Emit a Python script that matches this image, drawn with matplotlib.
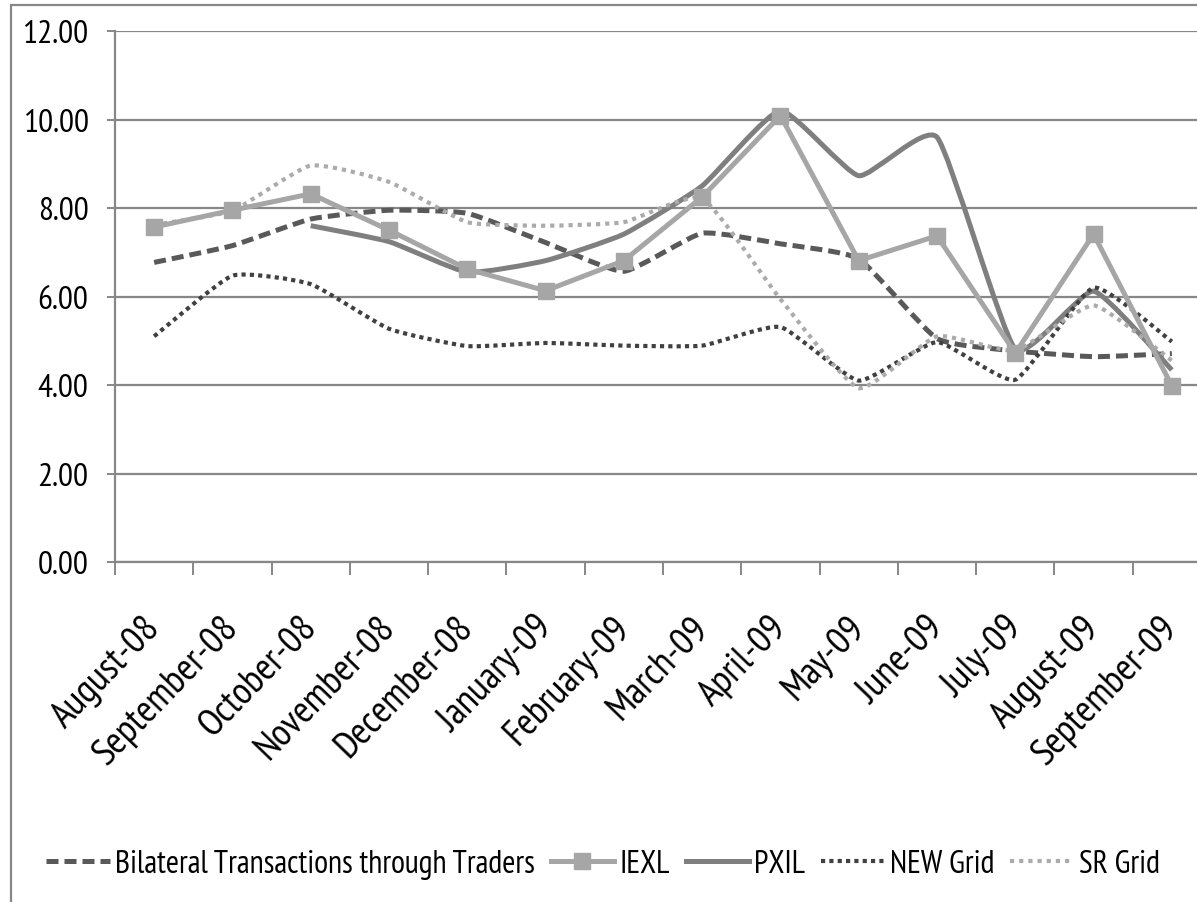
import matplotlib
matplotlib.use("Agg")
import matplotlib.pyplot as plt
import matplotlib.transforms as mtransforms
from matplotlib.path import Path
from matplotlib.patches import PathPatch, Rectangle
from matplotlib.lines import Line2D
import numpy as np

plt.rcParams["font.family"] = ["PT Sans Narrow", "DejaVu Sans"]

months = [
    "August-08", "September-08", "October-08", "November-08", "December-08",
    "January-09", "February-09", "March-09", "April-09", "May-09",
    "June-09", "July-09", "August-09", "September-09",
]
bilateral = [6.77, 7.15, 7.75, 7.95, 7.88, 7.22, 6.57, 7.43, 7.19, 6.85, 5.05, 4.77, 4.64, 4.71]
iexl = [7.57, 7.95, 8.32, 7.50, 6.62, 6.13, 6.81, 8.25, 10.09, 6.81, 7.37, 4.72, 7.41, 3.98]
pxil = [np.nan, np.nan, 7.60, 7.24, 6.55, 6.81, 7.41, 8.50, 10.20, 8.73, 9.60, 4.81, 6.12, 4.34]
new_grid = [5.10, 6.47, 6.28, 5.27, 4.88, 4.95, 4.89, 4.89, 5.31, 4.10, 4.97, 4.12, 6.20, 4.98]
sr_grid = [7.62, 7.94, 8.96, 8.59, 7.68, 7.60, 7.68, 8.22, 5.94, 3.93, 5.10, 4.78, 5.80, 4.55]

y_ticks = [0, 2, 4, 6, 8, 10, 12]

GRID = "#878787"
TENSION = 0.08


def smoothed_path(xs, ys):
    # Bezier curve through the points, like a spreadsheet "smoothed line"
    pts = np.array([(x, y) for x, y in zip(xs, ys) if not np.isnan(y)], dtype=float)
    n = len(pts)
    verts = [pts[0]]
    codes = [Path.MOVETO]
    for i in range(n - 1):
        p0 = pts[i - 1] if i > 0 else pts[i]
        p1 = pts[i]
        p2 = pts[i + 1]
        p3 = pts[i + 2] if i + 2 < n else pts[i + 1]
        verts += [p1 + (p2 - p0) * TENSION, p2 - (p3 - p1) * TENSION, p2]
        codes += [Path.CURVE4] * 3
    return Path(verts, codes)


W, H = 1197, 903
fig = plt.figure(figsize=(W / 100, H / 100), dpi=100)
ax = fig.add_axes([115 / W, 1 - 563 / H, 1096 / W, 531 / H])

x = np.arange(len(months))

series = [
    ("Bilateral Transactions through Traders", bilateral, dict(color="#595959", lw=3.6, ls=(0, (2.4, 1.2))), True),
    ("IEXL", iexl, dict(color="#a6a6a6", lw=3.6, ls="-"), False),
    ("PXIL", pxil, dict(color="#7f7f7f", lw=3.6, ls="-"), True),
    ("NEW Grid", new_grid, dict(color="#404040", lw=3.0, ls=(0, (1.0, 1.0))), True),
    ("SR Grid", sr_grid, dict(color="#ababab", lw=3.0, ls=(0, (1.0, 1.2))), True),
]

handles, labels = [], []
for name, vals, st, smooth in series:
    if smooth:
        patch = PathPatch(smoothed_path(x, vals), fill=False, edgecolor=st["color"],
                          linewidth=st["lw"], linestyle=st["ls"], capstyle="butt",
                          joinstyle="round", zorder=3)
        ax.add_patch(patch)
        h = Line2D([], [], color=st["color"], lw=st["lw"], ls=st["ls"])
    else:
        ax.plot(x, vals, color=st["color"], lw=st["lw"], ls=st["ls"], marker="s",
                markersize=12, markerfacecolor=st["color"], markeredgecolor=st["color"],
                zorder=4)
        h = Line2D([], [], color=st["color"], lw=st["lw"], marker="s", markersize=12)
    handles.append(h)
    labels.append(name)

ax.set_xlim(-0.5, len(months) - 0.5)
ax.set_ylim(0, 12)
ax.set_yticks(y_ticks)
ax.set_yticklabels([f"{v:.2f}" for v in y_ticks], fontsize=24)
ax.yaxis.grid(True, color=GRID, lw=1.6)
ax.set_axisbelow(True)

ax.set_xticks(np.arange(len(months) + 1) - 0.5, minor=False)
ax.set_xticklabels([])
ax.set_xticks(x, minor=True)
ax.set_xticklabels(months, minor=True, rotation=46, ha="right", va="top",
                   rotation_mode="anchor", fontsize=28)
ax.tick_params(axis="x", which="major", direction="out", length=9, width=1.4, color=GRID)
ax.tick_params(axis="x", which="minor", length=0, pad=34)
ax.tick_params(axis="y", direction="out", length=6, width=1.4, color=GRID, pad=13)
shift = mtransforms.ScaledTranslation(-12 / 100, 0, fig.dpi_scale_trans)
for lab in ax.get_xticklabels(minor=True):
    lab.set_transform(lab.get_transform() + shift)

for side in ("top", "right"):
    ax.spines[side].set_visible(False)
for side in ("left", "bottom"):
    ax.spines[side].set_color(GRID)
    ax.spines[side].set_linewidth(1.6)

# chart border
fig.patches.append(Rectangle((11 / W, -0.05), 1.2, 1.05 - 6 / H, transform=fig.transFigure,
                             fill=False, edgecolor=GRID, lw=1.6))

fig.legend(handles, labels, ncol=5, frameon=False, fontsize=23, handlelength=2.0,
           handletextpad=0.15, columnspacing=0.5, borderpad=0, borderaxespad=0,
           loc="center left", bbox_to_anchor=(46 / W, 1 - 865 / H))

fig.savefig("out.png", dpi=100)
